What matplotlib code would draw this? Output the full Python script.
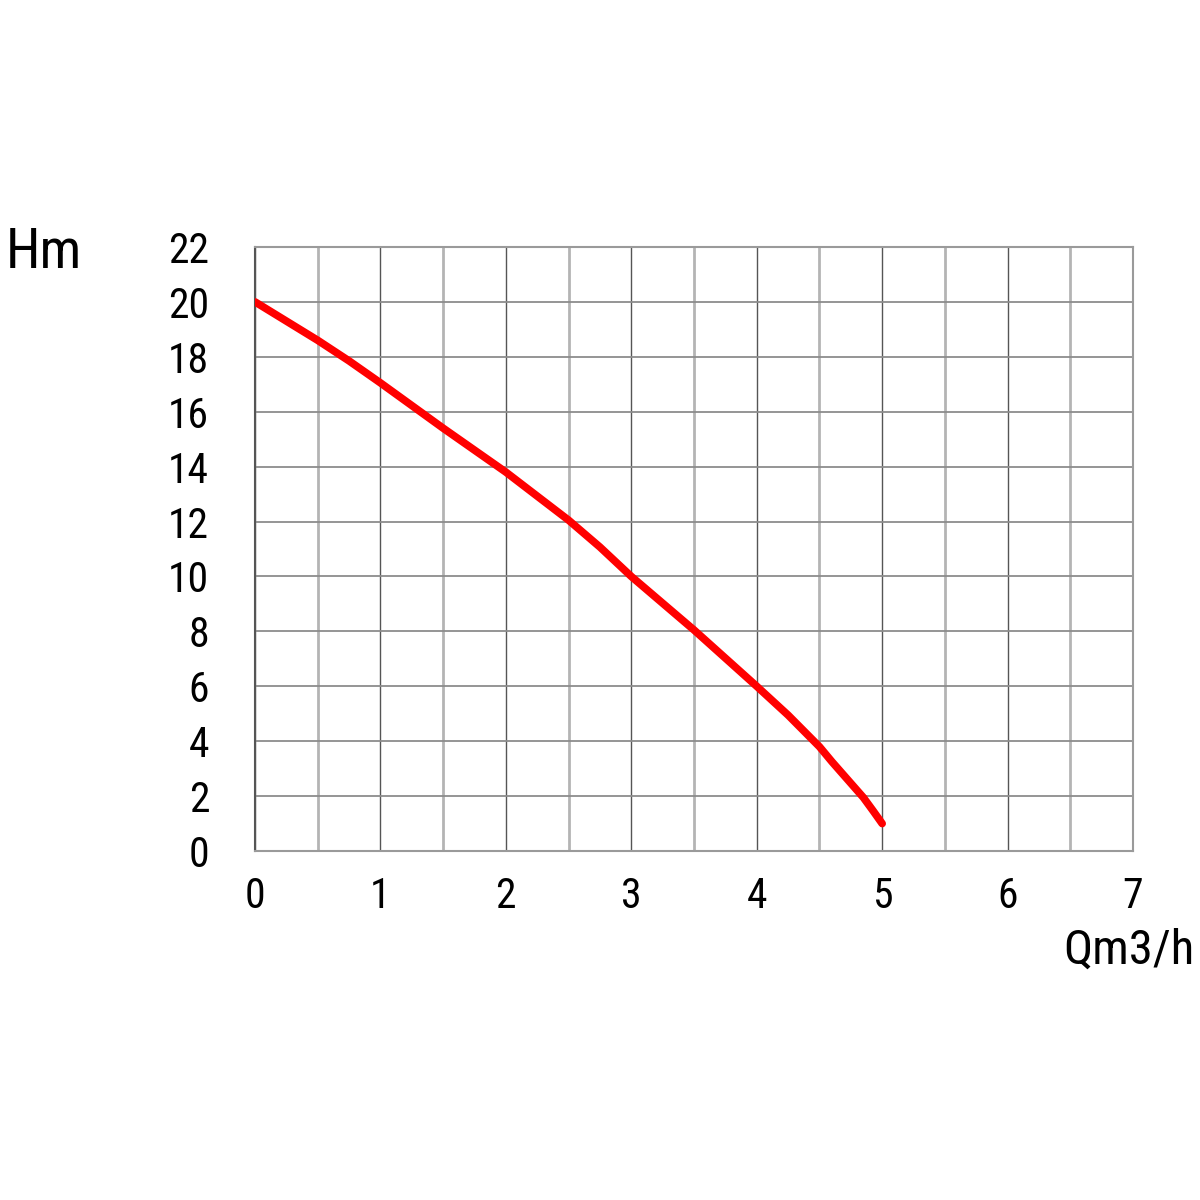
import matplotlib
matplotlib.use('Agg')
import matplotlib.pyplot as plt
from matplotlib import font_manager

# pump curve
flow = [0, 0.5, 0.75, 1, 1.5, 2, 2.5, 2.75, 3, 3.5, 4, 4.25, 4.5, 4.6, 4.75, 4.85, 4.93, 5]
head = [20, 18.6, 17.85, 17.05, 15.4, 13.8, 12.05, 11.07, 10, 8.05, 6, 4.95, 3.8, 3.25, 2.47, 1.95, 1.45, 1]
xticks = [0, 1, 2, 3, 4, 5, 6, 7]
yticks = [0, 2, 4, 6, 8, 10, 12, 14, 16, 18, 20, 22]

names = {f.name for f in font_manager.fontManager.ttflist}
fam = 'DejaVu Sans'
for cand in ['Roboto Condensed', 'Liberation Sans Narrow', 'DejaVu Sans Condensed', 'Open Sans Condensed']:
    if cand in names:
        fam = cand
        break
plt.rcParams['font.family'] = fam

fig = plt.figure(figsize=(12, 12), dpi=100)
ax = fig.add_axes([0.2125, 0.2908, 0.7317, 0.5034])

# grid: integer verticals dark, half verticals light
for x in [i * 0.5 for i in range(15)]:
    if x == int(x):
        ax.axvline(x, color='#555555', lw=1.0, zorder=1)
    else:
        ax.axvline(x, color='#b4b4b4', lw=2.0, zorder=1)
for y in yticks:
    ax.axhline(y, color='#8c8c8c', lw=1.3, zorder=1)

ax.plot(flow, head, color='#ff0000', lw=5.5, solid_capstyle='round',
        solid_joinstyle='round', zorder=3)

ax.set_xlim(0, 7)
ax.set_ylim(0, 22)
ax.set_xticks(xticks)
ax.set_yticks(yticks)
ax.tick_params(length=0, labelsize=30, pad=18)
ax.set_xticklabels([str(v) for v in xticks])
ax.set_yticklabels([str(v) for v in yticks])
ax.tick_params(axis='y', pad=33)
for s in ax.spines.values():
    s.set_color('#9a9a9a')
    s.set_linewidth(1.5)
ax.spines['left'].set_color('#555555')

fig.text(0.005, 0.79, 'Hm', fontsize=40, ha='left', va='center')
fig.text(0.995, 0.208, 'Qm3/h', fontsize=35, ha='right', va='center')

fig.savefig('out.png', dpi=100, facecolor='white')
